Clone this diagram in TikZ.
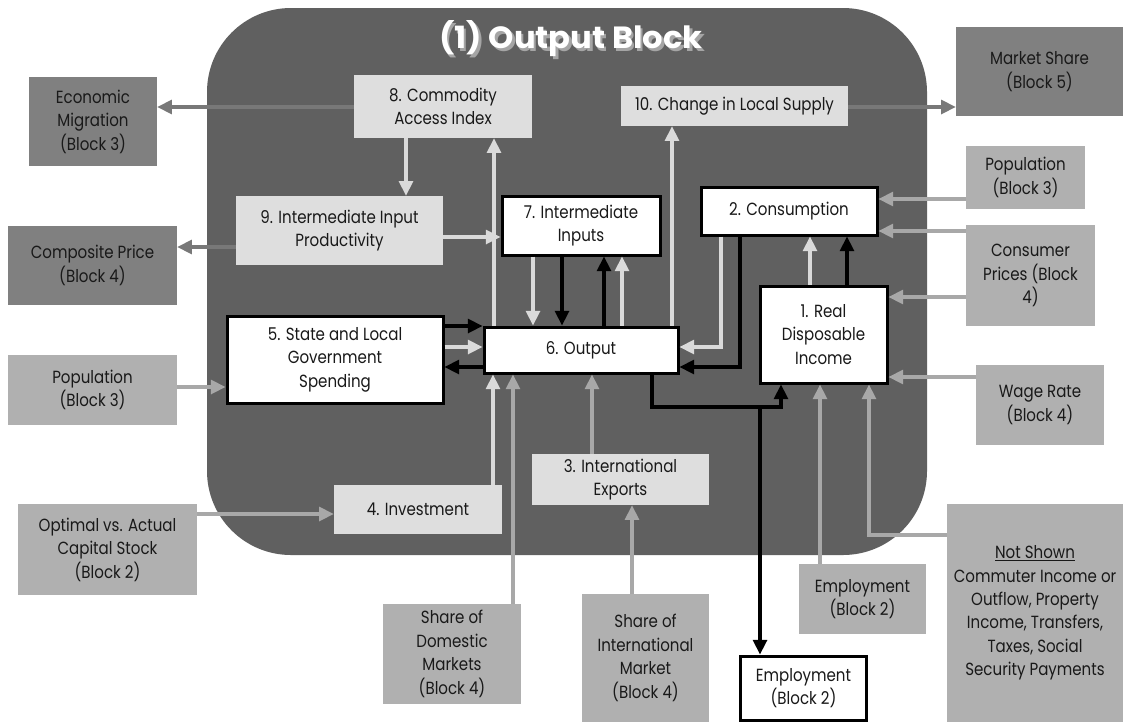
\documentclass[tikz,border=0pt]{standalone}
\usepackage{fontspec}
\setmainfont{Poppins}[FakeStretch=0.855]
\newfontfamily\titlefont{Poppins}[FakeStretch=1.05]
\usetikzlibrary{arrows.meta}
\definecolor{bgblock}{RGB}{96,96,96}
\definecolor{lightbox}{RGB}{222,222,222}
\definecolor{medbox}{RGB}{176,176,176}
\definecolor{darkbox}{RGB}{128,128,128}
\definecolor{lightarr}{RGB}{218,218,218}
\definecolor{medarr}{RGB}{168,168,168}
\definecolor{darkarr}{RGB}{120,120,120}
\definecolor{shadowgray}{RGB}{165,165,165}
\newdimen\pxu
\pxu=0.75pt
\tikzset{
  base/.style={rectangle, inner sep=0pt, align=center,
    font=\fontsize{13.2pt}{17.6pt}\selectfont, text=black!90},
  lbox/.style={base, fill=lightbox},
  mbox/.style={base, fill=medbox},
  dbox/.style={base, fill=darkbox},
  wbox/.style={base, fill=white, draw=black, line width=2.25pt},
  tipa/.style={-{Triangle[length=11pt,width=10.5pt]}},
  La/.style={tipa, draw=lightarr, line width=2.3pt},
  Ma/.style={tipa, draw=medarr, line width=2.3pt},
  Da/.style={tipa, draw=darkarr, line width=2.3pt},
  Ka/.style={tipa, draw=black, line width=2.3pt},
  ttl/.style={font=\titlefont\fontsize{23pt}{27pt}\selectfont\bfseries},
}
\begin{document}
\begin{tikzpicture}[x=0.75pt,y=-0.75pt]
\useasboundingbox (0,0) rectangle (1123,722);
\fill[white] (0,0) rectangle (1123,722);
\fill[bgblock, rounded corners=63pt] (207,8) rectangle (927,555);
% title
\node[ttl, text=shadowgray] (titleshadow) at (573.5,41.5) {(1) Output Block};
\node[ttl, text=white] (title) at (571,39) {(1) Output Block};

% inner boxes
\node[lbox, minimum width=178\pxu, minimum height=63\pxu] (B8) at (443,106.5) {8. Commodity\\Access Index};
\node[lbox, minimum width=227\pxu, minimum height=40\pxu] (B10) at (734.5,106) {10. Change in Local Supply};
\node[lbox, minimum width=207\pxu, minimum height=69\pxu] (B9) at (339.5,230.5) {9. Intermediate Input\\Productivity};
\node[wbox, minimum width=158\pxu, minimum height=59\pxu] (B7) at (581,225.5) {7. Intermediate\\Inputs};
\node[wbox, minimum width=176\pxu, minimum height=48\pxu] (B2) at (789,211) {2. Consumption};
\node[wbox, minimum width=216\pxu, minimum height=87\pxu] (B5) at (335,359.5) {5. State and Local\\Government\\Spending};
\node[wbox, minimum width=194\pxu, minimum height=46\pxu] (B6) at (581,350) {6. Output};
\node[wbox, minimum width=127\pxu, minimum height=97\pxu] (B1) at (823.5,334.5) {1. Real\\Disposable\\Income};
\node[lbox, minimum width=168\pxu, minimum height=49\pxu] (B4) at (418,509.5) {4. Investment};
\node[lbox, minimum width=177\pxu, minimum height=51\pxu] (B3) at (620.5,479.5) {3. International\\Exports};

% outside boxes
\node[dbox, minimum width=128\pxu, minimum height=89\pxu] (EM) at (93,121.5) {Economic\\Migration\\(Block 3)};
\node[dbox, minimum width=169\pxu, minimum height=79\pxu] (CP) at (92.5,265.5) {Composite Price\\(Block 4)};
\node[mbox, minimum width=169\pxu, minimum height=70\pxu] (PL) at (92.5,390) {Population\\(Block 3)};
\node[mbox, minimum width=179\pxu, minimum height=91\pxu] (OA) at (107.5,549.5) {Optimal vs. Actual\\Capital Stock\\(Block 2)};
\node[mbox, minimum width=138\pxu, minimum height=100\pxu] (SD) at (452,654) {Share of\\Domestic\\Markets\\(Block 4)};
\node[mbox, minimum width=127\pxu, minimum height=128\pxu] (SI) at (645.5,658) {Share of\\International\\Market\\(Block 4)};
\node[mbox, minimum width=127\pxu, minimum height=70\pxu] (EG) at (862.5,599) {Employment\\(Block 2)};
\node[wbox, minimum width=126\pxu, minimum height=64\pxu] (EW) at (803.5,688) {Employment\\(Block 2)};
\node[mbox, minimum width=176\pxu, minimum height=218\pxu] (NS) at (1035,613) {\underline{Not Shown}\\Commuter Income or\\Outflow, Property\\Income, Transfers,\\Taxes, Social\\Security Payments};
\node[dbox, minimum width=167\pxu, minimum height=89\pxu] (MS) at (1039.5,71.5) {Market Share\\(Block 5)};
\node[mbox, minimum width=119\pxu, minimum height=63\pxu] (PR) at (1025.5,177.5) {Population\\(Block 3)};
\node[mbox, minimum width=129\pxu, minimum height=101\pxu] (CU) at (1030.5,275.5) {Consumer\\Prices (Block\\4)};
\node[mbox, minimum width=128\pxu, minimum height=80\pxu] (WR) at (1040,405) {Wage Rate\\(Block 4)};

% helper coordinates (columns and rows)
\foreach \c in {406,493,494,513,533,562,592,604,622,632,652,672,721,740,760,781,810,820,847,869}
  {\coordinate (v\c) at (\c,0);}
\foreach \r in {107,199,231,237,247,297,326,347,367,377,387,407,514,535}
  {\coordinate (h\r) at (0,\r);}

% light inner connectors
\draw[La] (B8.south -| v406) -- (B9.north -| v406);
\draw[La] (B6.north -| v494) -- (B8.south -| v494);
\draw[La] (B9.east |- h237) -- (B7.west |- h237);
\draw[La] (B6.north -| v672) -- (B10.south -| v672);
\draw[La] (B7.south -| v533) -- (B6.north -| v533);
\draw[La] (B6.north -| v622) -- (B7.south -| v622);
\draw[La] (B5.east |- h347) -- (B6.west |- h347);
\draw[La] (B2.south -| v721) |- (B6.east |- h347);
\draw[La] (B1.north -| v810) -- (B2.south -| v810);
\draw[La] (B4.north -| v493) -- (B6.south -| v493);

% black connectors
\draw[Ka] (B7.south -| v562) -- (B6.north -| v562);
\draw[Ka] (B6.north -| v604) -- (B7.south -| v604);
\draw[Ka] (B5.east |- h326) -- (B6.west |- h326);
\draw[Ka] (B6.west |- h367) -- (B5.east |- h367);
\draw[Ka] (B2.south -| v740) |- (B6.east |- h367);
\draw[Ka] (B1.north -| v847) -- (B2.south -| v847);
\coordinate (J1) at (h407 -| v781);
\coordinate (J2) at (h407 -| v760);
\draw[Ka] (B6.south -| v652) |- (J1) -- (B1.south -| v781);
\draw[Ka] (J2) -- (EW.north -| v760);

% medium gray inputs
\draw[Ma] (SD.north -| v513) -- (B6.south -| v513);
\draw[Ma] (B3.north -| v592) -- (B6.south -| v592);
\draw[Ma] (SI.north -| v632) -- (B3.south -| v632);
\draw[Ma] (EG.north -| v820) -- (B1.south -| v820);
\draw[Ma] (NS.west |- h535) -| (B1.south -| v869);
\draw[Ma] (OA.east |- h514) -- (B4.west |- h514);
\draw[Ma] (PL.east |- h387) -- (B5.west |- h387);
\draw[Ma] (PR.west |- h199) -- (B2.east |- h199);
\draw[Ma] (CU.west |- h231) -- (B2.east |- h231);
\draw[Ma] (CU.west |- h297) -- (B1.east |- h297);
\draw[Ma] (WR.west |- h377) -- (B1.east |- h377);

% dark gray outputs
\draw[Da] (B8.west |- h107) -- (EM.east |- h107);
\draw[Da] (B9.west |- h247) -- (CP.east |- h247);
\draw[Da] (B10.east |- h107) -- (MS.west |- h107);
\end{tikzpicture}
\end{document}
